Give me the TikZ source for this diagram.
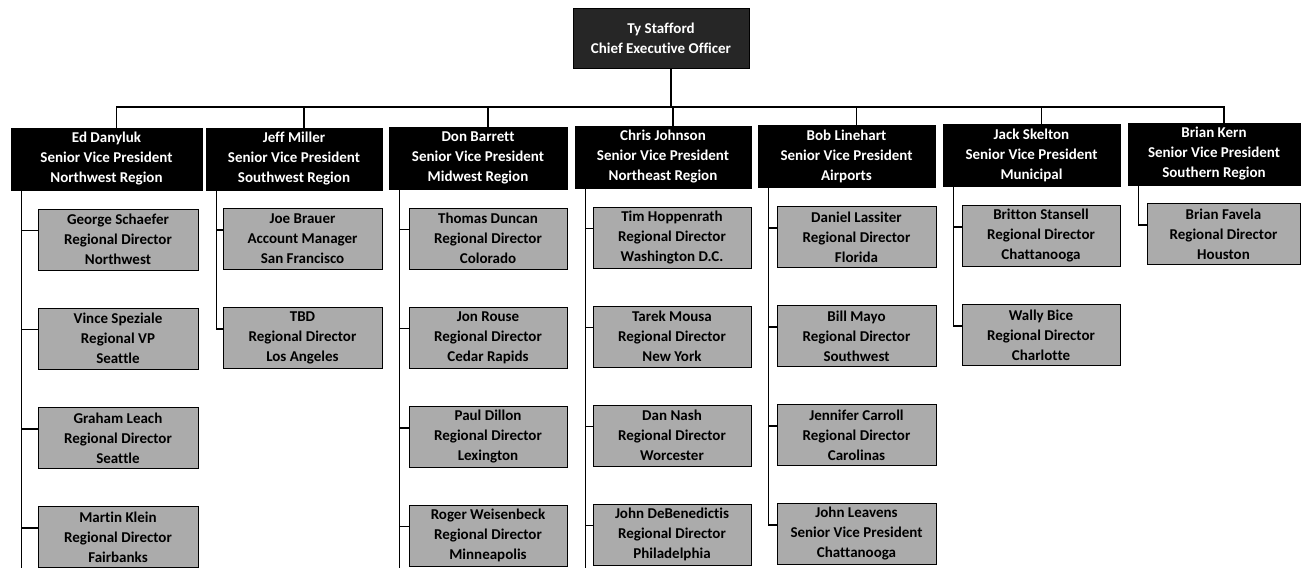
\documentclass[tikz,border=0pt]{standalone}
\usepackage{fontspec}
\setmainfont{Carlito}[Ligatures={NoCommon,NoRare}]
\begin{document}
\begin{tikzpicture}[x=1pt,y=-1pt,
  hdr/.style={fill=black,draw=black,text=white,font=\fontsize{15}{20}\selectfont\bfseries,align=center,inner sep=0pt,minimum height=62pt},
  ceobox/.style={hdr,fill=black!85,minimum height=60pt},
  sub/.style={fill=black!33,draw=black,line width=1pt,text=black,font=\fontsize{15}{20}\selectfont\bfseries,align=center,inner sep=0pt,minimum height=61pt},
  conn/.style={line width=1.3pt,draw=black}]
\useasboundingbox (0,0) rectangle (1302,568);
\coordinate (bus) at (0,107);
\coordinate (bottom) at (0,568);
% CEO
\node[ceobox,minimum width=176pt] (ceo) at (661,38) {Ty Stafford\\Chief Executive Officer};
% SVPs
\node[hdr,minimum width=191pt] (ed) at (106.5,159) {Ed Danyluk\\Senior Vice President\\Northwest Region};
\node[hdr,minimum width=176pt] (jeff) at (294,159) {Jeff Miller\\Senior Vice President\\Southwest Region};
\node[hdr,minimum width=178pt] (don) at (478,158) {Don Barrett\\Senior Vice President\\Midwest Region};
\node[hdr,minimum width=176pt] (chris) at (663,157) {Chris Johnson\\Senior Vice President\\Northeast Region};
\node[hdr,minimum width=177pt] (bob) at (846.5,156) {Bob Linehart\\Senior Vice President\\Airports};
\node[hdr,minimum width=177pt] (jack) at (1031.5,155) {Jack Skelton\\Senior Vice President\\Municipal};
\node[hdr,minimum width=172pt] (kern) at (1214,154) {Brian Kern\\Senior Vice President\\Southern Region};
% Ed column
\node[sub,minimum width=160pt] (george) at (118,239.5) {George Schaefer\\Regional Director\\Northwest};
\node[sub,minimum width=160pt] (vince) at (118,338.5) {Vince Speziale\\Regional VP\\Seattle};
\node[sub,minimum width=160pt] (graham) at (118,438) {Graham Leach\\Regional Director\\Seattle};
\node[sub,minimum width=160pt] (martin) at (118,537) {Martin Klein\\Regional Director\\Fairbanks};
% Jeff column
\node[sub,minimum width=159pt] (joe) at (302.5,239) {Joe Brauer\\Account Manager\\San Francisco};
\node[sub,minimum width=159pt] (tbd) at (302.5,338) {TBD\\Regional Director\\Los Angeles};
% Don column
\node[sub,minimum width=158pt] (thomas) at (488,238.5) {Thomas Duncan\\Regional Director\\Colorado};
\node[sub,minimum width=158pt] (jon) at (488,337.5) {Jon Rouse\\Regional Director\\Cedar Rapids};
\node[sub,minimum width=158pt] (paul) at (488,437) {Paul Dillon\\Regional Director\\Lexington};
\node[sub,minimum width=158pt] (roger) at (488,535.5) {Roger Weisenbeck\\Regional Director\\Minneapolis};
% Chris column
\node[sub,minimum width=158pt] (tim) at (672,237.5) {Tim Hoppenrath\\Regional Director\\Washington D.C.};
\node[sub,minimum width=158pt] (tarek) at (672,336.5) {Tarek Mousa\\Regional Director\\New York};
\node[sub,minimum width=158pt] (dan) at (672,435.5) {Dan Nash\\Regional Director\\Worcester};
\node[sub,minimum width=158pt] (johnd) at (672,534.5) {John DeBenedictis\\Regional Director\\Philadelphia};
% Bob column
\node[sub,minimum width=159pt] (daniel) at (856.5,237) {Daniel Lassiter\\Regional Director\\Florida};
\node[sub,minimum width=159pt] (bill) at (856.5,336) {Bill Mayo\\Regional Director\\Southwest};
\node[sub,minimum width=159pt] (jennifer) at (856.5,435) {Jennifer Carroll\\Regional Director\\Carolinas};
\node[sub,minimum width=159pt] (johnl) at (856.5,534) {John Leavens\\Senior Vice President\\Chattanooga};
% Jack column
\node[sub,minimum width=158pt] (britton) at (1041,236) {Britton Stansell\\Regional Director\\Chattanooga};
\node[sub,minimum width=158pt] (wally) at (1041,335) {Wally Bice\\Regional Director\\Charlotte};
% Kern column
\node[sub,minimum width=153pt] (favela) at (1223.5,234) {Brian Favela\\Regional Director\\Houston};
% CEO to SVPs
\draw[conn] ([xshift=10pt]ceo.south) -- ([xshift=10pt]ceo.south |- bus);
\foreach \n in {ed,jeff,don,chris,bob,jack,kern}
  \draw[conn] ([xshift=10pt]ceo.south |- bus) -| ([xshift=10pt]\n.north);
% SVPs to reports
\foreach \p/\c in {ed/george,ed/vince,ed/graham,ed/martin,
                   jeff/joe,jeff/tbd,
                   don/thomas,don/jon,don/paul,don/roger,
                   chris/tim,chris/tarek,chris/dan,chris/johnd,
                   bob/daniel,bob/bill,bob/jennifer,bob/johnl,
                   jack/britton,jack/wally,
                   kern/favela}
  \draw[conn] ([xshift=11pt]\p.south west) |- ([yshift=9pt]\c.west);
% lines continuing below the page
\foreach \p in {ed,don,chris}
  \draw[conn] ([xshift=11pt]\p.south west) -- ([xshift=11pt]\p.south west |- bottom);
\end{tikzpicture}
\end{document}
